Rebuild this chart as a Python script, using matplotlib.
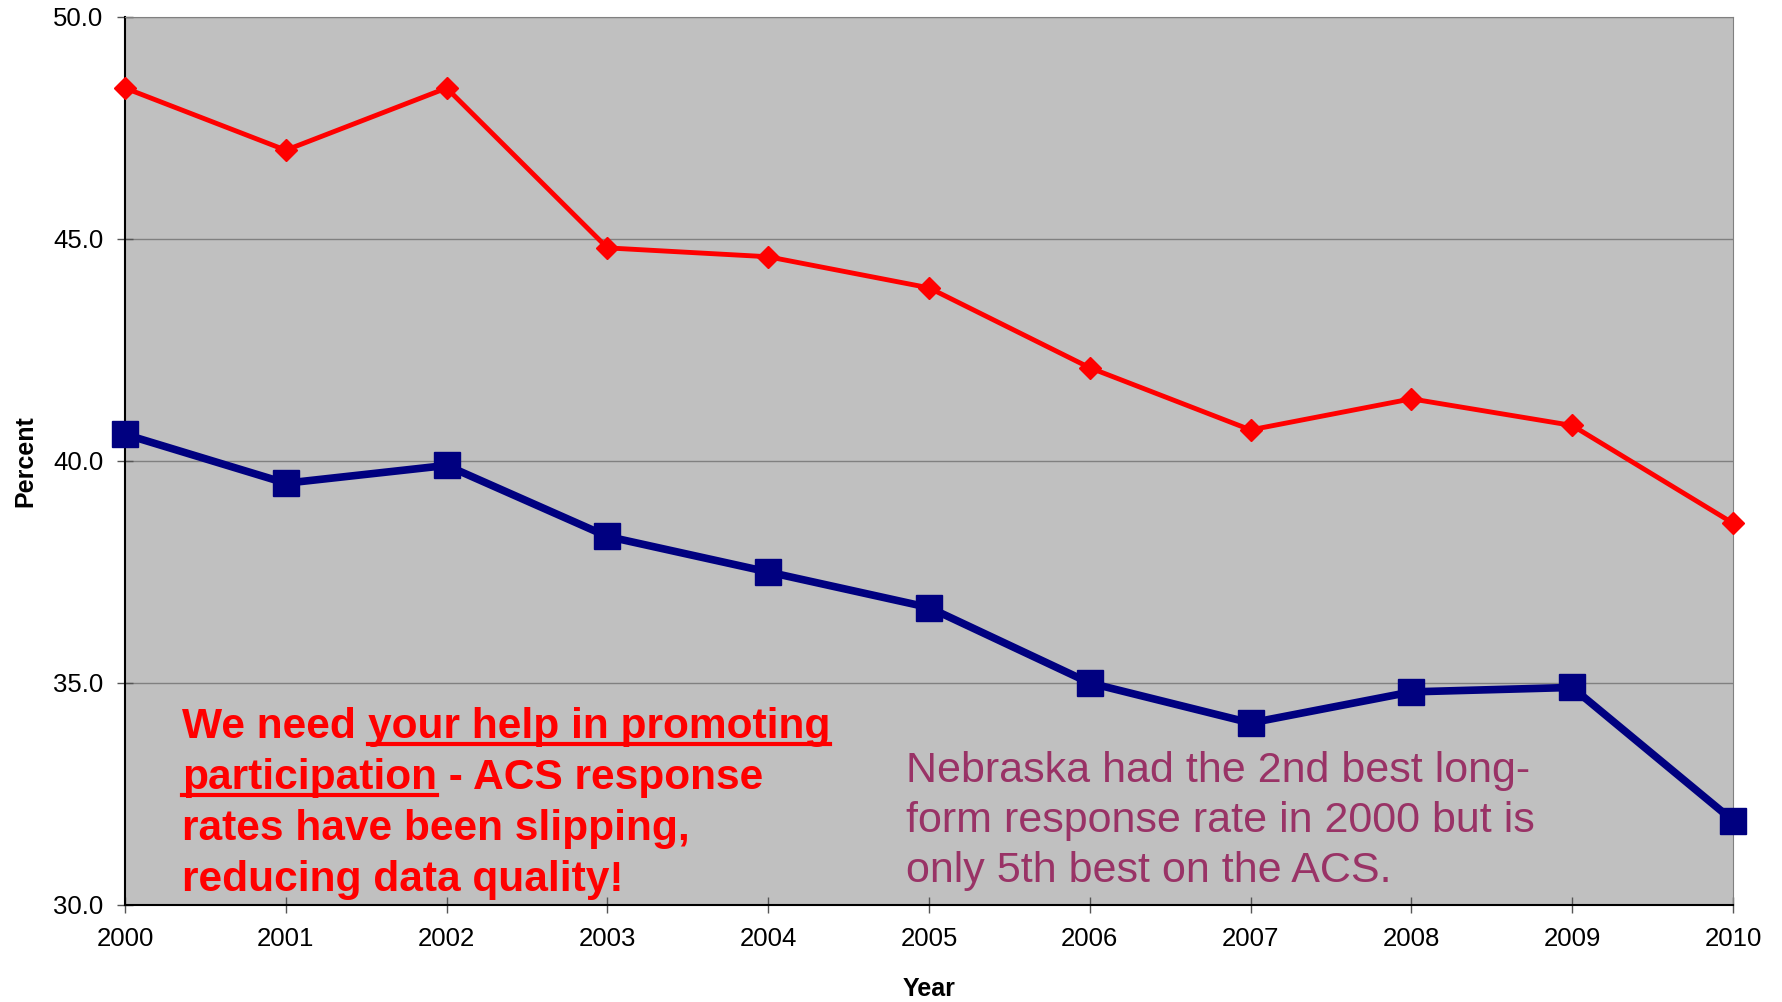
import numpy as np
import matplotlib.pyplot as plt
from matplotlib import font_manager

years = [2000, 2001, 2002, 2003, 2004, 2005, 2006, 2007, 2008, 2009, 2010]
red_vals = [48.4, 47.0, 48.4, 44.8, 44.6, 43.9, 42.1, 40.7, 41.4, 40.8, 38.6]
blue_vals = [40.6, 39.5, 39.9, 38.3, 37.5, 36.7, 35.0, 34.1, 34.8, 34.9, 31.9]
y_ticks = [30.0, 35.0, 40.0, 45.0, 50.0]

plt.rcParams['font.family'] = ['Liberation Sans', 'DejaVu Sans']

# narrow face if there is one, else shrink regular bold to the same width
names = {f.name for f in font_manager.fontManager.ttflist}
if 'Liberation Sans Narrow' in names:
    msg_family, msg_size = ['Liberation Sans Narrow'], 34
else:
    msg_family, msg_size = ['Liberation Sans'], 30.6

fig = plt.figure(figsize=(17.82, 10.02), dpi=100)
ax = fig.add_axes([125/1782, 97/1002, 1608/1782, 888/1002])
ax.set_facecolor('#C0C0C0')

ax.plot(years, red_vals, color='#FF0000', lw=3.5, marker='D', ms=11, clip_on=False, zorder=3)
ax.plot(years, blue_vals, color='#000080', lw=5.5, marker='s', ms=19, clip_on=False, zorder=4)

ax.set_xlim(2000, 2010)
ax.set_ylim(30, 50)
ax.set_xticks(years)
ax.set_yticks(y_ticks)
ax.set_yticklabels([f'{v:.1f}' for v in y_ticks])
ax.tick_params(direction='inout', length=11, width=1, color='#555555', labelsize=18.5, pad=10)
ax.grid(axis='y', color='#808080', lw=1)
ax.set_axisbelow(True)
for s in ['top', 'right']:
    ax.spines[s].set_color('#808080')
for s in ['left', 'bottom']:
    ax.spines[s].set_color('black')
    ax.spines[s].set_linewidth(1.5)

ax.set_ylabel('Percent', fontsize=18, fontweight='bold', va='center')
ax.yaxis.set_label_coords(-0.062, 0.5)
ax.set_xlabel('Year', fontsize=18, fontweight='bold', va='center')
ax.xaxis.set_label_coords(0.5, -0.0946)

# red message, built piece by piece so parts can be underlined
fig.canvas.draw()
r = fig.canvas.get_renderer()
red_lines = [[('We need ', False), ('your help in promoting', True)],
             [('participation', True), (' - ACS response', False)],
             [('rates have been slipping,', False)],
             [('reducing data quality!', False)]]
x0 = 182 / 1782
y0 = 1 - 738 / 1002
for i, parts in enumerate(red_lines):
    x = x0
    yb = y0 - i * 51 / 1002
    for txt, under in parts:
        t = fig.text(x, yb, txt, family=msg_family, fontsize=msg_size, fontweight='bold',
                     color='#FF0000', va='baseline', ha='left')
        bb = t.get_window_extent(r)
        if under:
            uy = yb - 6 / 1002
            fig.add_artist(plt.Line2D([bb.x0 / 1782, bb.x1 / 1782], [uy, uy],
                                      color='#FF0000', lw=3))
        x = bb.x1 / 1782

note = ['Nebraska had the 2nd best long-',
        'form response rate in 2000 but is',
        'only 5th best on the ACS.']
for i, line in enumerate(note):
    fig.text(906 / 1782, 1 - (782 + i * 50) / 1002, line,
             fontsize=31, color='#993366', va='baseline', ha='left')

fig.savefig('out.png', dpi=100)
